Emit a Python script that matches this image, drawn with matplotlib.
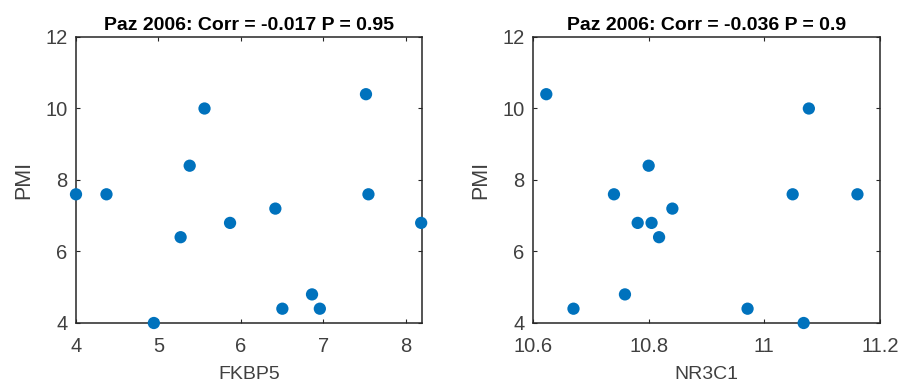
import matplotlib
matplotlib.use("Agg")
import matplotlib.pyplot as plt

plt.rcParams['font.family'] = ['Liberation Sans', 'DejaVu Sans']

pmi_left = [7.6, 7.6, 4.0, 6.4, 8.4, 10.0, 6.8, 7.2, 4.4, 4.8, 4.4, 10.4, 7.6, 6.8]
fkbp5 = [4.0, 4.37, 4.945, 5.27, 5.38, 5.56, 5.87, 6.42, 6.505, 6.865, 6.96, 7.52, 7.55, 8.19]

nr3c1 = [10.623, 10.670, 10.740, 10.759, 10.781, 10.800, 10.805, 10.818, 10.841, 10.971, 11.049, 11.068, 11.077, 11.161]
pmi_right = [10.4, 4.4, 7.6, 4.8, 6.8, 8.4, 6.8, 6.4, 7.2, 4.4, 7.6, 4.0, 10.0, 7.6]

titles = ["Paz 2006: Corr = -0.017 P = 0.95", "Paz 2006: Corr = -0.036 P = 0.9"]
xlabels = ["FKBP5", "NR3C1"]
ylabel = "PMI"
xticks_left = [4, 5, 6, 7, 8]
xticks_right = [10.6, 10.8, 11.0, 11.2]
xticklabels_right = ["10.6", "10.8", "11", "11.2"]
yticks = [4, 6, 8, 10, 12]

W, H = 911, 385
fig = plt.figure(figsize=(W / 100, H / 100), dpi=100)
ax1 = fig.add_axes([76 / W, (H - 323) / H, 346 / W, 286 / H])
ax2 = fig.add_axes([533 / W, (H - 323) / H, 347 / W, 286 / H])

dark = '#262626'
textc = '#404040'
blue = '#0072BD'

for ax, x, y, title, xl in [(ax1, fkbp5, pmi_left, titles[0], xlabels[0]),
                            (ax2, nr3c1, pmi_right, titles[1], xlabels[1])]:
    ax.scatter(x, y, s=78, color=blue, edgecolors='none', clip_on=False, zorder=3)
    ax.set_ylim(4, 12)
    ax.set_yticks(yticks)
    ax.set_title(title, fontsize=14, fontweight='bold', color='black', pad=5)
    ax.set_xlabel(xl, fontsize=14, color=textc, labelpad=7)
    ax.set_ylabel(ylabel, fontsize=15.5, color=textc, labelpad=8)
    ax.tick_params(direction='in', top=True, right=True, length=3, width=0.8,
                   colors=dark, labelcolor=textc, labelsize=14.5)
    ax.tick_params(axis='y', pad=6)
    ax.tick_params(axis='x', pad=10)
    for sp in ax.spines.values():
        sp.set_color(dark)
        sp.set_linewidth(1.1)

ax1.set_xlim(4, 8.2)
ax1.set_xticks(xticks_left)
ax2.set_xlim(10.6, 11.2)
ax2.set_xticks(xticks_right)
ax2.set_xticklabels(xticklabels_right)

fig.savefig("out.png", dpi=100)
